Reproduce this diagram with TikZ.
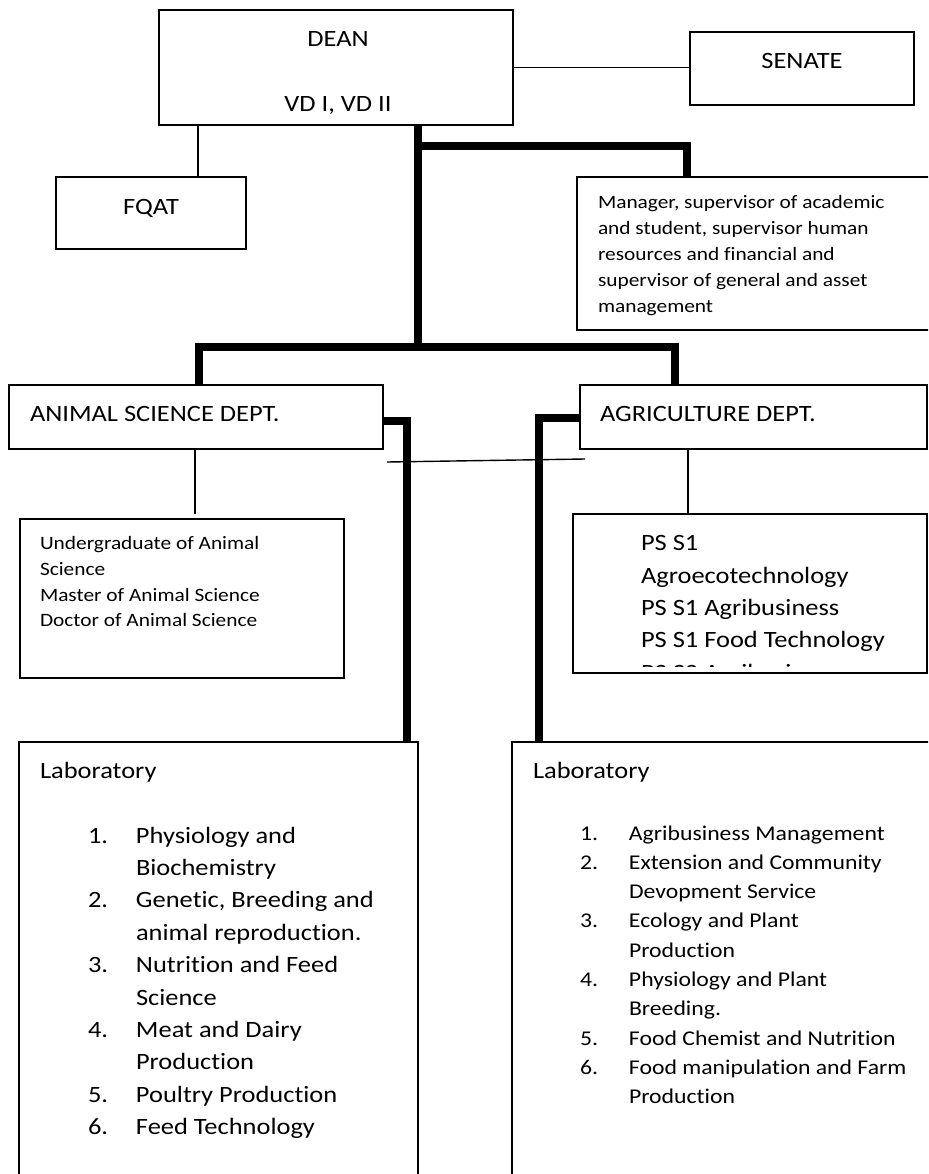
\documentclass[tikz,border=0pt]{standalone}
\usepackage{fontspec}
\setmainfont{Carlito}[FakeStretch=1.13,Ligatures={NoCommon,NoRare,NoDiscretionary}]
\newcommand\fbig{\fontsize{23.4}{32.4}\selectfont}
\newcommand\fmid{\fontsize{21}{29.3}\selectfont}
\newcommand\fsml{\fontsize{18.9}{25.8}\selectfont}
\begin{document}
\begin{tikzpicture}[x=1pt,y=-1pt,
  box/.style={draw, line width=1.4pt, rectangle, anchor=north west, inner sep=0pt, outer sep=0pt},
  thickline/.style={line width=7.5pt},
  thinline/.style={line width=1.4pt},
  txt/.style={inner sep=0pt, outer sep=0pt, anchor=base west, align=left},
  ctxt/.style={inner sep=0pt, outer sep=0pt, anchor=base}]
\useasboundingbox (0,0) rectangle (928,1174);
\fill[white] (0,0) rectangle (928,1174);
\clip (0,0) rectangle (928,1174);

% boxes
\node[box, minimum width=354pt, minimum height=115pt] (dean) at (159,10) {};
\node[box, minimum width=224pt, minimum height=73pt] (senate) at (690,32) {};
\node[box, minimum width=190pt, minimum height=72pt] (fqat) at (56,177) {};
\node[box, minimum width=368pt, minimum height=153pt] (manager) at (577,177) {};
\node[box, minimum width=374pt, minimum height=64pt] (animal) at (9,385) {};
\node[box, minimum width=347pt, minimum height=64pt] (agri) at (580,385) {};
\node[box, minimum width=324pt, minimum height=159pt] (under) at (20,519) {};
\node[box, minimum width=354pt, minimum height=159pt] (ps) at (573,514) {};
\node[box, minimum width=399pt, minimum height=460pt] (lab1) at (19,742) {};
\node[box, minimum width=430pt, minimum height=460pt] (lab2) at (512,742) {};

% helper coordinates
\coordinate (xf) at (198,0);
\coordinate (xd) at (418,0);
\coordinate (j0) at (418,146);
\coordinate (j1) at (418,347);
\coordinate (xm) at (687,0);
\coordinate (xa) at (199,0);
\coordinate (xg) at (675,0);
\coordinate (ya) at (0,421);
\coordinate (yb) at (0,418);
\coordinate (xl1) at (407,0);
\coordinate (xl2) at (539,0);
\coordinate (xu) at (195,0);
\coordinate (cu) at (195,514);
\coordinate (xp) at (688,0);
\coordinate (t1) at (387,462);
\coordinate (t2) at (585,459);

% thin connectors
\draw[thinline] (dean.east) -- (dean.east -| senate.west);
\draw[thinline] (dean.south -| xf) -- (fqat.north -| xf);
\draw[thinline] (animal.south -| xu) -- (cu);
\draw[thinline] (agri.south -| xp) -- (ps.north -| xp);
\draw[thinline] (t1) -- (t2);

% thick connectors
\draw[thickline] (dean.south -| xd) -- (j1);
\draw[thickline] (j0) -| (manager.north -| xm);
\draw[thickline] (animal.north -| xa) |- (j1) -| (agri.north -| xg);
\draw[thickline] (animal.east |- ya) -| (lab1.north -| xl1);
\draw[thickline] (agri.west |- yb) -| (lab2.north -| xl2);

% texts
\node[ctxt] (deant) at (338,47) {\fbig DEAN};
\node[ctxt] (vdt) at (338,112) {\fbig VD I, VD II};
\node[ctxt] (senatet) at (802,69) {\fbig SENATE};
\node[ctxt] (fqatt) at (151,215) {\fbig FQAT};
\node[txt] (managert) at (598,209) {\fsml\begin{tabular}[t]{@{}l@{}}
Manager, supervisor of academic\\
and student, supervisor human\\
resources and financial and\\
supervisor of general and asset\\
management\end{tabular}};
\node[txt] (animalt) at (30,421.5) {\fbig ANIMAL SCIENCE DEPT.};
\node[txt] (agrit) at (600,421.5) {\fbig AGRICULTURE DEPT.};
\node[txt] (undert) at (40,549.5) {\fsml\begin{tabular}[t]{@{}l@{}}
Undergraduate of Animal\\
Science\\
Master of Animal Science\\
Doctor of Animal Science\end{tabular}};
\begin{scope}
\clip (573,514) rectangle (927,666);
\node[txt] (pst) at (641,550.7) {\fbig\begin{tabular}[t]{@{}l@{}}
PS S1\\
Agroecotechnology\\
PS S1 Agribusiness\\
PS S1 Food Technology\\
PS S2 Agribusiness\end{tabular}};
\end{scope}
\node[txt] (lab1t) at (40,778) {\fbig Laboratory};
\node[txt] (lab2t) at (533,778) {\fbig Laboratory};
\node[txt] (lab1l) at (88,843) {\fbig\begin{tabular}[t]{@{}p{48pt}@{}l@{}}
1. & Physiology and\\
   & Biochemistry\\
2. & Genetic, Breeding and\\
   & animal reproduction.\\
3. & Nutrition and Feed\\
   & Science\\
4. & Meat and Dairy\\
   & Production\\
5. & Poultry Production\\
6. & Feed Technology\end{tabular}};
\node[txt] (lab2l) at (580,840) {\fmid\begin{tabular}[t]{@{}p{49pt}@{}l@{}}
1. & Agribusiness Management\\
2. & Extension and Community\\
   & Devopment Service\\
3. & Ecology and Plant\\
   & Production\\
4. & Physiology and Plant\\
   & Breeding.\\
5. & Food Chemist and Nutrition\\
6. & Food manipulation and Farm\\
   & Production\end{tabular}};
\end{tikzpicture}
\end{document}
